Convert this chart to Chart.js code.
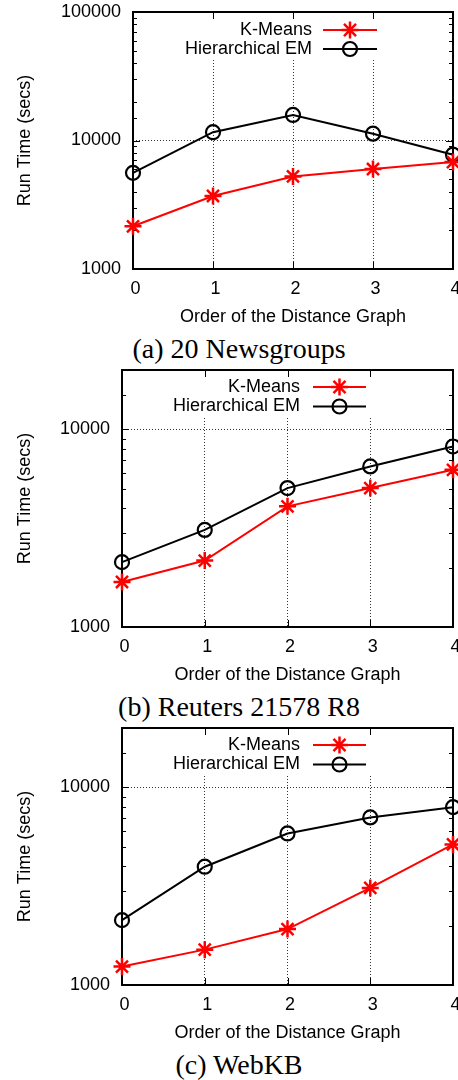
<!DOCTYPE html>
<html>
<head>
<meta charset="utf-8">
<title>Run time vs order of the distance graph</title>
<script src="https://cdn.jsdelivr.net/npm/chart.js@4.4.1/dist/chart.umd.min.js"></script>
<style>
  body { margin: 0; background: #fff; }
  #figure { width: 458px; height: 1080px; overflow: hidden; }
  .panel { position: relative; width: 458px; height: 358px; }
  .panel canvas { position: absolute; left: 0; top: 0; }
  .caption {
    position: absolute; left: 39px; width: 400px; top: 335px; height: 28px;
    text-align: center; font: 28px/28px "Liberation Serif", "Times New Roman", serif; color: #000;
  }
</style>
</head>
<body>
<div id="figure">
  <div class="panel"><canvas id="chartA" width="458" height="330"></canvas><div class="caption" id="capA"></div></div>
  <div class="panel"><canvas id="chartB" width="458" height="330"></canvas><div class="caption" id="capB"></div></div>
  <div class="panel"><canvas id="chartC" width="458" height="330"></canvas><div class="caption" id="capC"></div></div>
</div>
<script>
'use strict';
const orders = ['0', '1', '2', '3', '4'];
const seriesNames = ['K-Means', 'Hierarchical EM'];
const yTickLabels = [1000, 10000, 100000];
const captions = ['(a) 20 Newsgroups', '(b) Reuters 21578 R8', '(c) WebKB'];

// run time in seconds
const newsKMeans = [2150, 3700, 5250, 6000, 6800];
const newsHEM = [5600, 11600, 15800, 11300, 7750];
const reutersKMeans = [1690, 2170, 4080, 5050, 6250];
const reutersHEM = [2130, 3100, 5050, 6500, 8200];
const webkbKMeans = [1240, 1510, 1920, 3100, 5150];
const webkbHEM = [2130, 3970, 5850, 7050, 7950];

const yMin = 1000;
const yMax = [100000, 20000, 20000];

Chart.defaults.font.family = '"Liberation Sans", Arial, Helvetica, sans-serif';
Chart.defaults.font.size = 18;
Chart.defaults.color = '#000';

const dotted = 'rgba(0,0,0,0.8)';
const clear = 'rgba(0,0,0,0)';

// gnuplot look: frame, inward ticks on all four sides, key inside the plot
const gnuplotFrame = {
  id: 'gnuplotFrame',
  beforeDatasetsDraw(chart, args, opts) {
    const ctx = chart.ctx;
    const a = chart.chartArea;
    const xs = chart.scales.x;
    const ys = chart.scales.y;
    ctx.save();
    ctx.fillStyle = '#fff';
    ctx.fillRect(a.right - opts.boxLeft, a.top + 1, opts.boxLeft - opts.lineTo + 7, opts.boxHeight);
    ctx.strokeStyle = '#000';
    ctx.lineWidth = 2;
    ctx.strokeRect(a.left, a.top, a.right - a.left, a.bottom - a.top);
    ctx.lineWidth = 1;
    ctx.beginPath();
    ys.ticks.forEach(t => {
      const y = Math.round(ys.getPixelForValue(t.value)) + 0.5;
      const len = yTickLabels.includes(Math.round(t.value)) ? 7 : 4;
      ctx.moveTo(a.left, y);
      ctx.lineTo(a.left + len, y);
      ctx.moveTo(a.right, y);
      ctx.lineTo(a.right - len, y);
    });
    xs.ticks.forEach((t, i) => {
      const x = Math.round(xs.getPixelForTick(i)) + 0.5;
      ctx.moveTo(x, a.bottom);
      ctx.lineTo(x, a.bottom - 7);
      ctx.moveTo(x, a.top);
      ctx.lineTo(x, a.top + 7);
    });
    ctx.stroke();
    ctx.restore();
  },
  afterDatasetsDraw(chart, args, opts) {
    const ctx = chart.ctx;
    const a = chart.chartArea;
    ctx.save();
    ctx.font = '18px "Liberation Sans", Arial, sans-serif';
    ctx.textAlign = 'right';
    ctx.textBaseline = 'middle';
    chart.data.datasets.forEach((ds, i) => {
      const y = a.top + opts.rows[i];
      ctx.fillStyle = '#000';
      ctx.fillText(ds.label, a.right - opts.textRight, y);
      ctx.strokeStyle = ds.borderColor;
      ctx.lineWidth = ds.borderWidth;
      ctx.beginPath();
      ctx.moveTo(a.right - opts.lineFrom, y);
      ctx.lineTo(a.right - opts.lineTo, y);
      ctx.stroke();
      ctx.fillStyle = clear;
      ctx.lineWidth = ds.pointBorderWidth;
      Chart.helpers.drawPoint(ctx, {
        pointStyle: ds.pointStyle,
        radius: ds.pointRadius,
        borderWidth: ds.pointBorderWidth,
        rotation: 0
      }, a.right - (opts.lineFrom + opts.lineTo) / 2, y);
    });
    ctx.restore();
  }
};

function makeChart(id, kMeans, hem, top, axisWidth, key) {
  const ctx = document.getElementById(id).getContext('2d');
  return new Chart(ctx, {
    type: 'line',
    data: {
      labels: orders,
      datasets: [{
        label: seriesNames[0],
        data: kMeans,
        borderColor: '#ff0000',
        backgroundColor: '#ff0000',
        borderWidth: 2,
        pointStyle: 'star',
        pointRadius: 8.5,
        pointBorderWidth: 2.5,
        pointBorderColor: '#ff0000',
        clip: false
      },
      {
        label: seriesNames[1],
        data: hem,
        borderColor: '#000000',
        backgroundColor: clear,
        borderWidth: 2,
        pointStyle: 'circle',
        pointRadius: 7,
        pointBorderWidth: 2.2,
        pointBorderColor: '#000000',
        pointBackgroundColor: clear,
        clip: false
      }]
    },
    options: {
      responsive: false,
      animation: false,
      devicePixelRatio: 1,
      layout: { autoPadding: false, padding: { top: 12, right: 5, left: 0, bottom: 0 } },
      plugins: {
        legend: { display: false },
        tooltip: { enabled: false },
        gnuplotFrame: key
      },
      scales: {
        x: {
          type: 'category',
          offset: false,
          grid: {
            color: c => (c.index > 0 && c.index < orders.length - 1) ? dotted : clear,
            drawTicks: false,
            lineWidth: 1,
            borderDash: [1, 2]
          },
          border: { display: false, dash: [1, 2] },
          ticks: { padding: 9, labelOffset: 2.5, autoSkip: false, maxRotation: 0 },
          title: { display: true, text: 'Order of the Distance Graph', padding: { top: 0, bottom: 2.5 } },
          afterFit(scale) {
            scale.height = 61;
            scale.paddingLeft = 0;
            scale.paddingRight = 0;
          }
        },
        y: {
          type: 'logarithmic',
          min: yMin,
          max: top,
          grid: {
            color: c => {
              const v = c.tick ? Math.round(c.tick.value) : 0;
              return (yTickLabels.includes(v) && v > yMin && v < top) ? dotted : clear;
            },
            drawTicks: false,
            lineWidth: 1,
            borderDash: [1, 2]
          },
          border: { display: false, dash: [1, 2] },
          ticks: {
            autoSkip: false,
            padding: 12,
            callback: v => yTickLabels.includes(Math.round(v)) ? String(Math.round(v)) : ''
          },
          title: { display: true, text: 'Run Time (secs)', padding: { top: 14, bottom: 0 } },
          afterFit(scale) {
            scale.width = axisWidth;
            scale.paddingTop = 0;
            scale.paddingBottom = 0;
          }
        }
      }
    },
    plugins: [gnuplotFrame]
  });
}

const keyA = { textRight: 141, lineFrom: 130, lineTo: 76, rows: [18, 37], boxLeft: 278, boxHeight: 47 };
const keyBC = { textRight: 153, lineFrom: 140, lineTo: 87, rows: [17, 36.5], boxLeft: 290, boxHeight: 45 };

makeChart('chartA', newsKMeans, newsHEM, yMax[0], 133, keyA);
makeChart('chartB', reutersKMeans, reutersHEM, yMax[1], 122, keyBC);
makeChart('chartC', webkbKMeans, webkbHEM, yMax[2], 122, keyBC);

document.getElementById('capA').textContent = captions[0];
document.getElementById('capB').textContent = captions[1];
document.getElementById('capC').textContent = captions[2];
</script>
</body>
</html>
